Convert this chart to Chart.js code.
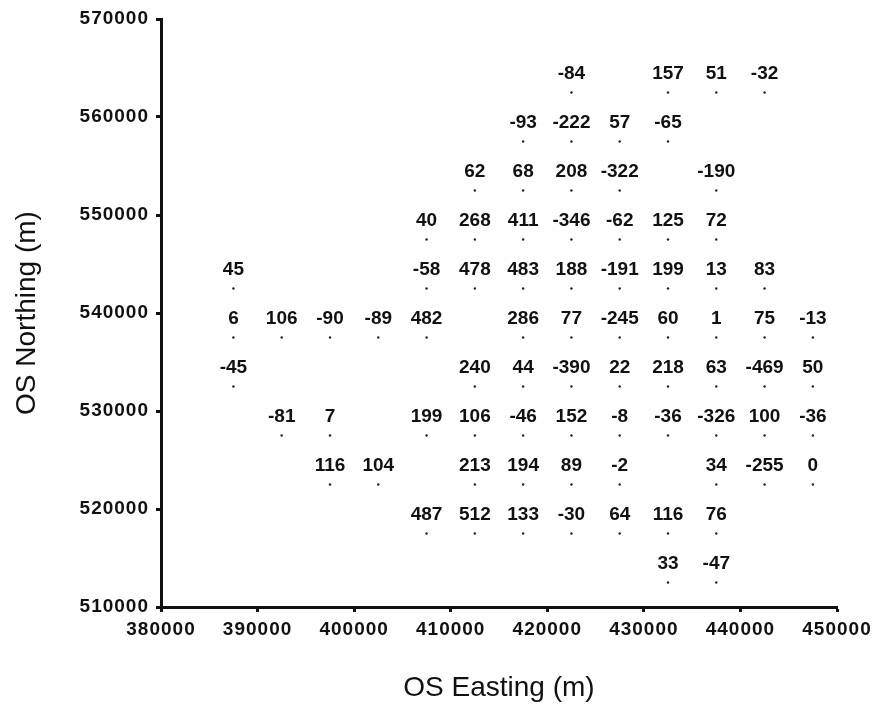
<!DOCTYPE html>
<html>
<head>
<meta charset="utf-8">
<script src="https://cdn.jsdelivr.net/npm/chart.js@4.4.1/dist/chart.umd.min.js"></script>
<style>
  html, body { margin: 0; padding: 0; background: #fff; }
  #wrap { width: 879px; height: 706px; }
</style>
</head>
<body>
<div id="wrap"><canvas id="chart" width="879" height="706"></canvas></div>
<script>
// grid cell centres (OS easting / northing, m)
const eastings = [387500, 392500, 397500, 402500, 407500, 412500, 417500, 422500, 427500, 432500, 437500, 442500, 447500];
const northings = [562500, 557500, 552500, 547500, 542500, 537500, 532500, 527500, 522500, 517500, 512500];

// one array per row (north to south), null = no cell
const row562500 = [null, null, null, null, null, null, null, -84, null, 157, 51, -32, null];
const row557500 = [null, null, null, null, null, null, -93, -222, 57, -65, null, null, null];
const row552500 = [null, null, null, null, null, 62, 68, 208, -322, null, -190, null, null];
const row547500 = [null, null, null, null, 40, 268, 411, -346, -62, 125, 72, null, null];
const row542500 = [45, null, null, null, -58, 478, 483, 188, -191, 199, 13, 83, null];
const row537500 = [6, 106, -90, -89, 482, null, 286, 77, -245, 60, 1, 75, -13];
const row532500 = [-45, null, null, null, null, 240, 44, -390, 22, 218, 63, -469, 50];
const row527500 = [null, -81, 7, null, 199, 106, -46, 152, -8, -36, -326, 100, -36];
const row522500 = [null, null, 116, 104, null, 213, 194, 89, -2, null, 34, -255, 0];
const row517500 = [null, null, null, null, 487, 512, 133, -30, 64, 116, 76, null, null];
const row512500 = [null, null, null, null, null, null, null, null, null, 33, -47, null, null];

const rows = [row562500, row557500, row552500, row547500, row542500, row537500,
              row532500, row527500, row522500, row517500, row512500];

const xTicks = [380000, 390000, 400000, 410000, 420000, 430000, 440000, 450000];
const yTicks = [510000, 520000, 530000, 540000, 550000, 560000, 570000];

const points = [];
rows.forEach((row, r) => {
    row.forEach((v, c) => {
        if (v !== null) points.push({ x: eastings[c], y: northings[r], v: v });
    });
});

// draws the value just above each dot, then widens spacing for the tick labels drawn after
const valueLabels = {
    id: 'valueLabels',
    afterDatasetsDraw(chart) {
        const ctx = chart.ctx;
        const meta = chart.getDatasetMeta(0);
        ctx.save();
        ctx.font = 'bold 19px "Liberation Sans", Arial, sans-serif';
        ctx.fillStyle = '#111';
        ctx.textAlign = 'center';
        ctx.textBaseline = 'alphabetic';
        meta.data.forEach((pt, i) => {
            ctx.fillText(String(points[i].v), pt.x, pt.y - 14);
        });
        ctx.restore();
        ctx.letterSpacing = '1px';
    },
    afterDraw(chart) {
        chart.ctx.letterSpacing = '0px';
    }
};

const tickFont = { family: '"Liberation Sans", Arial, sans-serif', size: 19, weight: 'bold' };
const titleFont = { family: '"Liberation Sans", Arial, sans-serif', size: 28 };

new Chart(document.getElementById('chart'), {
    type: 'scatter',
    data: {
        datasets: [{
            data: points,
            pointRadius: 1.2,
            pointBackgroundColor: '#222',
            pointBorderWidth: 0
        }]
    },
    options: {
        responsive: false,
        animation: false,
        layout: { padding: { left: 0, top: 19, right: 42, bottom: 0 } },
        plugins: { legend: { display: false }, tooltip: { enabled: false } },
        scales: {
            x: {
                type: 'linear',
                min: 380000,
                max: 450000,
                afterFit: s => { s.height = 99; },
                afterBuildTicks: s => { s.ticks = xTicks.map(v => ({ value: v })); },
                ticks: { callback: v => String(v), color: '#111', font: tickFont, padding: 6, maxRotation: 0, z: 1 },
                grid: { display: true, drawOnChartArea: false, drawTicks: true, tickLength: 5, tickWidth: 3, color: '#111' },
                border: { color: '#111', width: 3 },
                title: { display: true, text: 'OS Easting (m)', color: '#111', font: titleFont, padding: { top: 4, bottom: 1 } }
            },
            y: {
                type: 'linear',
                min: 510000,
                max: 570000,
                afterFit: s => { s.width = 161; },
                afterBuildTicks: s => { s.ticks = yTicks.map(v => ({ value: v })); },
                ticks: { callback: v => String(v), color: '#111', font: tickFont, padding: 7, z: 1 },
                grid: { display: true, drawOnChartArea: false, drawTicks: true, tickLength: 5, tickWidth: 3, color: '#111' },
                border: { color: '#111', width: 3 },
                title: { display: true, text: 'OS Northing (m)', color: '#111', font: titleFont, padding: { top: 10, bottom: 4 } }
            }
        }
    },
    plugins: [valueLabels]
});
</script>
</body>
</html>
